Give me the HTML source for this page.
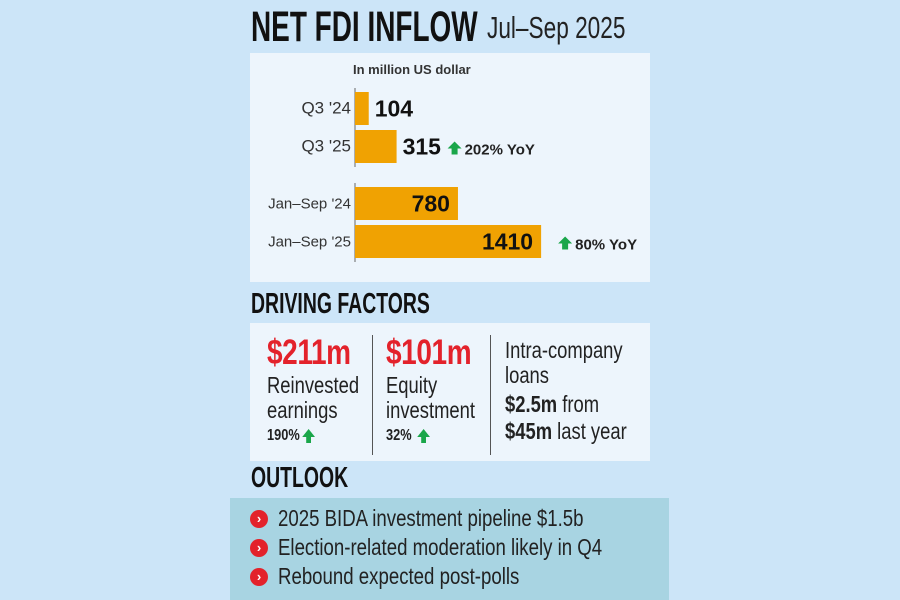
<!DOCTYPE html>
<html><head><meta charset="utf-8">
<style>
*{margin:0;padding:0;box-sizing:border-box}
body{width:900px;height:600px;background:#cce5f8;position:relative;overflow:hidden;font-family:"Liberation Sans",sans-serif;color:#1a1a1a}
.abs{position:absolute;transform-origin:left top}
.h{font-weight:bold;color:#111;white-space:nowrap}
.panel{background:#edf5fc}
.big{font-size:35px;font-weight:bold;color:#e3222b;line-height:40px;letter-spacing:-0.5px}
.txt{font-size:23px;line-height:25px;color:#222;white-space:nowrap}
.pct{font-size:16px;font-weight:bold;color:#222;margin-top:4px;white-space:nowrap}
.up{display:inline-block;width:0;height:0;border-left:8px solid transparent;border-right:8px solid transparent;border-bottom:8px solid #1aa64a;position:relative;vertical-align:middle;margin-left:3px;top:-3px}
.up::after{content:"";position:absolute;left:-3px;top:7px;width:6px;height:7px;background:#1aa64a}
.bul{font-size:23px;color:#222;white-space:nowrap;position:absolute;left:28px;transform:scaleX(0.81);transform-origin:left top}
.dot{position:absolute;left:0;width:18px;height:18px;border-radius:50%;background:#e3222b;color:#fff;font-size:13px;line-height:18px;text-align:center;font-weight:bold}
</style></head><body>
<div class="abs h" style="left:251px;top:3px;font-size:43px;transform:scaleX(0.65)">NET FDI INFLOW</div>
<div class="abs" style="left:487px;top:10px;font-size:31px;color:#222;transform:scaleX(0.73);white-space:nowrap">Jul–Sep 2025</div>

<div class="abs panel" style="left:250px;top:53px;width:400px;height:229px"></div>
<div class="abs" style="left:353px;top:62px;font-size:13px;font-weight:bold;color:#333">In million US dollar</div>
<svg class="abs" id="chart" style="left:0;top:0" width="900" height="300"></svg>

<div class="abs h" style="left:251px;top:288px;font-size:29px;transform:scaleX(0.67)">DRIVING FACTORS</div>
<div class="abs panel" style="left:250px;top:323px;width:400px;height:138px"></div>
<div class="abs" style="left:267px;top:333px;transform:scaleX(0.8)">
 <div class="big">$211m</div>
 <div class="txt">Reinvested<br>earnings</div>
 <div class="pct">190%<span class="up"></span></div>
</div>
<div class="abs" style="left:372px;top:335px;width:1px;height:120px;background:#555"></div>
<div class="abs" style="left:386px;top:333px;transform:scaleX(0.8)">
 <div class="big">$101m</div>
 <div class="txt">Equity<br>investment</div>
 <div class="pct">32% <span class="up"></span></div>
</div>
<div class="abs" style="left:490px;top:335px;width:1px;height:120px;background:#555"></div>
<div class="abs" style="left:505px;top:338px;transform:scaleX(0.8)">
 <div class="txt" style="line-height:25px">Intra-company<br>loans</div>
 <div class="txt" style="line-height:27px;margin-top:3px"><b>$2.5m</b> from<br><b>$45m</b> last year</div>
</div>

<div class="abs h" style="left:251px;top:462px;font-size:29px;transform:scaleX(0.67)">OUTLOOK</div>
<div class="abs" style="left:230px;top:498px;width:439px;height:102px;background:#a8d4e2"></div>
<div class="abs" style="left:250px;top:505px;width:410px;height:95px">
 <div class="abs" style="left:0;top:0"><span class="dot" style="top:5px">›</span><span class="bul">2025 BIDA investment pipeline $1.5b</span></div>
 <div class="abs" style="left:0;top:29px"><span class="dot" style="top:5px">›</span><span class="bul">Election-related moderation likely in Q4</span></div>
 <div class="abs" style="left:0;top:58px"><span class="dot" style="top:5px">›</span><span class="bul">Rebound expected post-polls</span></div>
</div>

<script>
const categories = ["Q3 '24","Q3 '25","Jan–Sep '24","Jan–Sep '25"];
const values = [104, 315, 780, 1410];
const valueLabels = ["104","315","780","1410"];
const yoyLabels = ["", "202% YoY", "", "80% YoY"];

const svg = document.getElementById('chart');
const NS = 'http://www.w3.org/2000/svg';
const x0 = 355, scale = 0.132;
const xPos = v => x0 + v * scale;
const rowTops = [92, 130, 187, 225];
const barH = 33;
function mk(t, a){const e=document.createElementNS(NS,t);for(const k in a)e.setAttribute(k,a[k]);svg.appendChild(e);return e;}
[[88,167],[183,262]].forEach((g,i)=>{
  const l=mk('line',{x1:x0,x2:x0,y1:g[0],y2:g[1],stroke:'#666','stroke-width':1});
  
  
});
categories.forEach((c,i)=>{
  const y=rowTops[i];
  const r=mk('rect',{x:x0,y:y,width:xPos(values[i])-x0,height:barH,fill:'#f0a202'});
  
  
  const t=mk('text',{x:351,y:y+barH/2+5,'text-anchor':'end','font-size':i<2?17:15,fill:'#333','font-family':'Liberation Sans, sans-serif'});
  t.textContent=c;
  
  
  const w=xPos(values[i])-x0;
  const inside = w>60;
  const vx = inside ? xPos(values[i])-8 : xPos(values[i])+6;
  const v=mk('text',{x:vx,y:y+barH/2+8,'text-anchor':inside?'end':'start','font-size':23,'font-weight':'bold',fill:'#111','font-family':'Liberation Sans, sans-serif'});
  v.textContent=valueLabels[i];
  
  
  if(yoyLabels[i]){
    const ax = inside ? xPos(values[i])+24 : xPos(values[i])+58;
    const cy=y+barH/2+3;
    const a=mk('path',{d:`M${ax} ${cy-8} L${ax+7} ${cy-1} L${ax+3} ${cy-1} L${ax+3} ${cy+5} L${ax-3} ${cy+5} L${ax-3} ${cy-1} L${ax-7} ${cy-1} Z`,fill:'#1aa64a'});
    
    
    const yt=mk('text',{x:ax+10,y:cy+5,'font-size':15,'font-weight':'bold',fill:'#222','font-family':'Liberation Sans, sans-serif'});
    yt.textContent=yoyLabels[i];
    
    
  }
});
</script>
</body></html>
